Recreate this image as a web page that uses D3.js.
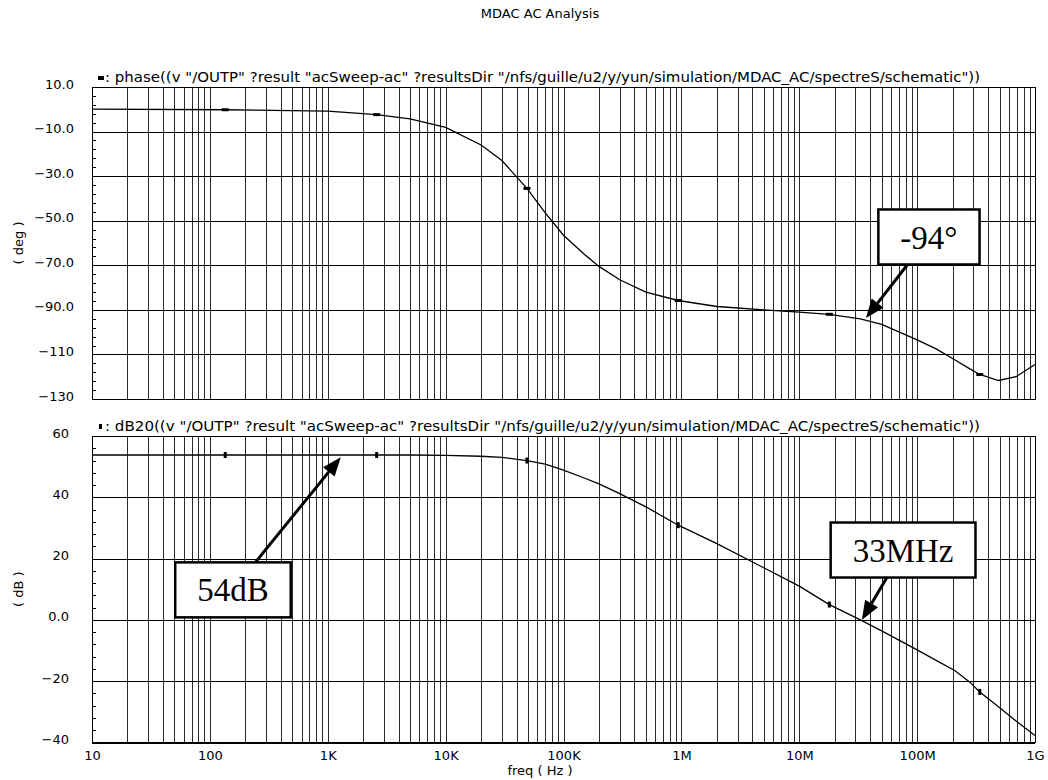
<!DOCTYPE html>
<html>
<head>
<meta charset="utf-8">
<script src="https://cdn.jsdelivr.net/npm/d3@7"></script>
<style>
  body { margin: 0; background: #fff; }
  svg text { font-family: "DejaVu Sans", sans-serif; fill: #000; }
</style>
</head>
<body>
<div id="main"></div>
<script>
// sweep points
const freqHz = [10, 135, 1e3, 2.6e3, 5e3, 1e4, 2e4, 3e4, 4.9e4, 7e4, 1e5, 1.5e5, 2e5, 3e5, 5e5, 9.4e5,
  2e6, 5e6, 1e7, 1.8e7, 3.3e7, 5e7, 1e8, 1.45e8, 2.1e8, 2.8e8, 3.4e8, 4.9e8, 6.9e8, 1e9];
const phaseDeg = [0.1, -0.2, -0.8, -2.4, -4.3, -8.1, -16, -23, -35.5, -46.5, -56.5, -65, -70.5, -76.5, -82, -85.8,
  -88.5, -90, -91, -92, -94, -96.5, -103.5, -107.5, -112.5, -116.5, -119, -121.7, -120, -114.5];
const magDb = [53.8, 53.8, 53.8, 53.8, 53.8, 53.7, 53.4, 53.0, 52.0, 50.8, 48.9, 46.3, 44.4, 41.2, 36.9, 30.9,
  24.9, 17.0, 11.0, 5.0, 0.0, -3.6, -9.8, -13.2, -16.6, -20.3, -23.5, -28.3, -33.0, -37.7];
const markerHz = [135, 2.6e3, 4.9e4, 9.4e5, 1.8e7, 3.4e8];

const freqTicks = [10, 1e2, 1e3, 1e4, 1e5, 1e6, 1e7, 1e8, 1e9];
const freqLabels = ["10", "100", "1K", "10K", "100K", "1M", "10M", "100M", "1G"];
const phaseTicks = [10, -10, -30, -50, -70, -90, -110, -130];
const phaseLabels = ["10.0", "\u221210.0", "\u221230.0", "\u221250.0", "\u221270.0", "\u221290.0", "\u2212110", "\u2212130"];
const magTicks = [60, 40, 20, 0, -20, -40];
const magLabels = ["60", "40", "20", "0.0", "\u221220", "\u221240"];

const signal = '(v "/OUTP" ?result "acSweep-ac" ?resultsDir "/nfs/guille/u2/y/yun/simulation/MDAC_AC/spectreS/schematic"))';

const annotText = ["-94\u00b0", "54dB", "33MHz"];
const annotPanel = [0, 1, 1];
const annotTipHz = [3.68e7, 1.29e3, 3.4e7];
const annotTipVal = [-93.7, 53.1, 0];
const annotBoxHz = [1.26e8, 157, 7.6e7];
const annotBoxVal = [-57.3, 9.8, 22.8];

const W = 1048, H = 780;
const x0 = 92, x1 = 1035;

const svg = d3.select("#main").append("svg")
  .attr("width", W).attr("height", H);

const x = d3.scaleLog().domain([10, 1e9]).range([x0, x1]);

const panels = [
  { top: 87, bottom: 399, domain: [-130, 10], ticks: phaseTicks, labels: phaseLabels,
    values: phaseDeg, title: ": phase(" + signal, unit: "( deg )", labelX: 74, mark: "h" },
  { top: 436, bottom: 742.5, domain: [-40, 60], ticks: magTicks, labels: magLabels,
    values: magDb, title: ": dB20(" + signal, unit: "( dB )", labelX: 69, mark: "v" }
];

svg.append("text")
  .attr("x", 540).attr("y", 18)
  .attr("text-anchor", "middle")
  .style("font-size", "13px")
  .text("MDAC AC Analysis");

panels.forEach((p, pi) => {
  const y = d3.scaleLinear().domain(p.domain).range([p.bottom, p.top]);
  p.y = y;
  const g = svg.append("g");

  // vertical grid at 1..9 per decade
  g.append("g")
    .attr("transform", `translate(0,${p.bottom})`)
    .call(d3.axisBottom(x).tickValues(x.ticks()).tickSize(-(p.bottom - p.top)).tickFormat(""))
    .call(a => a.select(".domain").remove())
    .selectAll("line").attr("stroke", "#2a2a2a").attr("shape-rendering", "crispEdges");

  // horizontal grid
  g.append("g")
    .attr("transform", `translate(${x0},0)`)
    .call(d3.axisLeft(y).tickValues(p.ticks).tickSize(-(x1 - x0)).tickFormat(""))
    .call(a => a.select(".domain").remove())
    .selectAll("line").attr("stroke", "#000").attr("shape-rendering", "crispEdges");

  // small ticks on the left edge
  g.append("g")
    .attr("transform", `translate(${x0},0)`)
    .call(d3.axisLeft(y).tickValues(d3.range(p.domain[0], p.domain[1], 4)).tickSize(-4).tickFormat(""))
    .call(a => a.select(".domain").remove())
    .selectAll("line").attr("stroke", "#000").attr("shape-rendering", "crispEdges");

  g.append("rect")
    .attr("x", x0).attr("y", p.top)
    .attr("width", x1 - x0).attr("height", p.bottom - p.top)
    .attr("fill", "none").attr("stroke", "#000")
    .attr("shape-rendering", "crispEdges");

  // y labels
  const ya = g.append("g")
    .attr("transform", `translate(${x0},0)`)
    .call(d3.axisLeft(y).tickValues(p.ticks).tickFormat((d, i) => p.labels[i]).tickSize(0).tickPadding(x0 - p.labelX));
  ya.select(".domain").remove();
  ya.selectAll("text").style("font-size", "13px").attr("dy", "1");

  g.append("text")
    .attr("transform", `translate(23,${(p.top + p.bottom) / 2}) rotate(-90)`)
    .attr("text-anchor", "middle")
    .style("font-size", "13px")
    .text(p.unit);

  // curve title with marker symbol
  if (p.mark === "h") {
    g.append("rect").attr("x", 98).attr("y", p.top - 11).attr("width", 6).attr("height", 4).attr("fill", "#000");
  } else {
    g.append("rect").attr("x", 99).attr("y", p.top - 12).attr("width", 3).attr("height", 5).attr("fill", "#000");
  }
  g.append("text")
    .attr("x", 105).attr("y", p.top - 5)
    .attr("textLength", 875).attr("lengthAdjust", "spacingAndGlyphs")
    .style("font-size", "13.5px")
    .text(p.title);

  const line = d3.line()
    .x(i => x(freqHz[i]))
    .y(i => y(p.values[i]));

  g.append("path")
    .datum(d3.range(freqHz.length))
    .attr("d", line)
    .attr("fill", "none")
    .attr("stroke", "#000")
    .attr("stroke-width", 1.3);

  const mw = p.mark === "h" ? 7 : 3, mh = p.mark === "h" ? 3 : 6;
  g.selectAll(".mk")
    .data(markerHz.map(f => freqHz.indexOf(f)))
    .enter()
    .append("rect")
      .attr("x", i => x(freqHz[i]) - mw / 2)
      .attr("y", i => y(p.values[i]) - mh / 2)
      .attr("width", mw).attr("height", mh)
      .attr("fill", "#000");

  if (pi === 1) {
    const xa = g.append("g")
      .attr("transform", `translate(0,${p.bottom})`)
      .call(d3.axisBottom(x).tickValues(freqTicks).tickFormat((d, i) => freqLabels[i]).tickSize(0).tickPadding(8));
    xa.select(".domain").remove();
    xa.selectAll("text").style("font-size", "13px");

    g.append("text")
      .attr("x", 540).attr("y", 775)
      .attr("text-anchor", "middle")
      .style("font-size", "13px")
      .text("freq ( Hz )");
  }
});

// callout boxes with arrows
annotText.forEach((t, i) => {
  const p = panels[annotPanel[i]];
  const tip = [x(annotTipHz[i]), p.y(annotTipVal[i])];
  const c = [x(annotBoxHz[i]), p.y(annotBoxVal[i])];

  const g = svg.append("g");
  const box = g.append("rect");
  const txt = g.append("text")
    .attr("x", c[0]).attr("y", c[1]).attr("dy", "0.35em")
    .attr("text-anchor", "middle")
    .style("font-family", "'Liberation Serif', serif")
    .style("font-size", "33px")
    .text(t);
  const bw = txt.node().getBBox().width + 44, bh = 55;
  box.attr("x", c[0] - bw / 2).attr("y", c[1] - bh / 2)
    .attr("width", bw).attr("height", bh)
    .attr("fill", "#fff").attr("stroke", "#000").attr("stroke-width", 2.5);

  const dx = tip[0] - c[0], dy = tip[1] - c[1];
  const s = Math.min(Math.abs(bh / 2 / dy), Math.abs(bw / 2 / dx));
  const tail = [c[0] + dx * s, c[1] + dy * s];
  const ang = Math.atan2(tip[1] - tail[1], tip[0] - tail[0]);
  const hl = 19, hw = 7.5;
  const base = [tip[0] - hl * Math.cos(ang), tip[1] - hl * Math.sin(ang)];

  svg.insert("line", () => g.node())
    .attr("x1", tail[0]).attr("y1", tail[1])
    .attr("x2", base[0]).attr("y2", base[1])
    .attr("stroke", "#000").attr("stroke-width", 3);
  svg.insert("path", () => g.node())
    .attr("d", d3.line()([
      tip,
      [base[0] + hw * Math.sin(ang), base[1] - hw * Math.cos(ang)],
      [base[0] - hw * Math.sin(ang), base[1] + hw * Math.cos(ang)]
    ]) + "Z")
    .attr("fill", "#000");
});
</script>
</body>
</html>
